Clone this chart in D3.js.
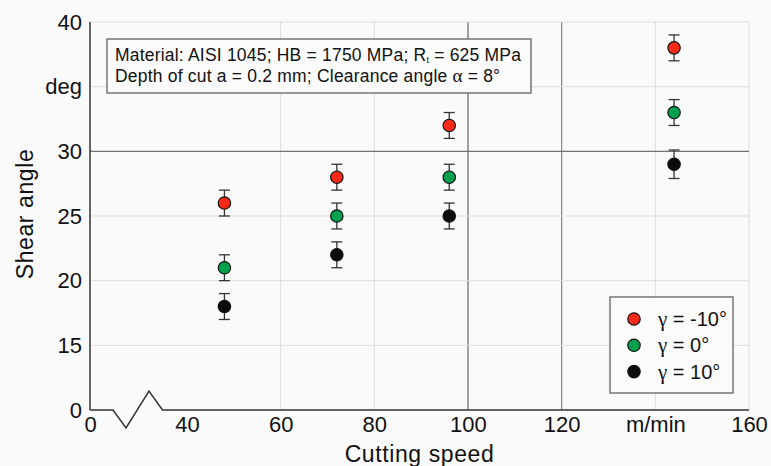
<!DOCTYPE html>
<html>
<head>
<meta charset="utf-8">
<script src="https://cdn.jsdelivr.net/npm/d3@7"></script>
<style>
  html, body { margin: 0; padding: 0; background: #fafafa; }
  svg { display: block; font-family: "Liberation Sans", Arial, sans-serif; }
</style>
</head>
<body>
<svg id="chart" width="771" height="466"></svg>
<script>
// Cutting speeds (m/min) at which the shear angle was measured
const speeds = [48, 72, 96, 144];

// Shear angle (deg) for each rake angle γ
const shearNeg10 = [26, 28, 32, 38];
const shear0 = [21, 25, 28, 33];
const shear10 = [18, 22, 25, 29];

// Scatter (± deg) shown as error bars
const errNeg10 = [1, 1, 1, 1];
const err0 = [1, 1, 1, 1];
const err10 = [1, 1, 1, 1.1];

// Legend entries: rake angle γ in degrees
const rakeAngles = ["-10", "0", "10"];
const seriesColors = ["#fb2a18", "#00a04f", "#0b0b0b"];

// Axis ticks; the x axis is broken between 0 and 40, the y axis starts at 10 shown as "0"
const xTickValues = [40, 60, 80, 100, 120, 140, 160];
const xTickLabels = ["40", "60", "80", "100", "120", "m/min", "160"];
const yTickValues = [10, 15, 20, 25, 30, 35, 40];
const yTickLabels = ["0", "15", "20", "25", "30", "deg", "40"];

const series = [
  { rake: rakeAngles[0], color: seriesColors[0], values: shearNeg10, errors: errNeg10 },
  { rake: rakeAngles[1], color: seriesColors[1], values: shear0, errors: err0 },
  { rake: rakeAngles[2], color: seriesColors[2], values: shear10, errors: err10 }
];

const svg = d3.select("#chart");
const plotLeft = 90, plotRight = 749, plotTop = 22, plotBottom = 410;
const xStart = 19.3;
const tickFont = 22, titleFont = 23;
const greekFont = "Liberation Serif, DejaVu Serif, serif";

const x = d3.scaleLinear().domain([xStart, 160]).range([plotLeft, plotRight]);
const y = d3.scaleLinear().domain([10, 40]).range([plotBottom, plotTop]);

// Grid
const grid = svg.append("g");
const strongX = { 100: "#666", 120: "#858585" };
grid.selectAll("line.vx")
  .data([60, 80, 100, 120, 140, 160])
  .join("line")
  .attr("x1", d => x(d)).attr("x2", d => x(d))
  .attr("y1", y(40)).attr("y2", y(10))
  .attr("stroke", d => strongX[d] || "#dedede")
  .attr("stroke-width", d => strongX[d] ? 1.2 : 1);
grid.selectAll("line.hy")
  .data([15, 20, 25, 30, 35, 40])
  .join("line")
  .attr("x1", x(xStart)).attr("x2", x(160))
  .attr("y1", d => y(d)).attr("y2", d => y(d))
  .attr("stroke", d => d === 30 ? "#707070" : "#dedede")
  .attr("stroke-width", d => d === 30 ? 1.2 : 1);

// Axes
const xAxis = d3.axisBottom(x)
  .tickValues([xStart].concat(xTickValues))
  .tickSize(0).tickPadding(6)
  .tickFormat(d => d === xStart ? "0" : xTickLabels[xTickValues.indexOf(d)]);
const gx = svg.append("g").attr("transform", `translate(0,${plotBottom})`).call(xAxis);
gx.select(".domain").remove();
gx.selectAll("text").attr("font-size", tickFont).attr("fill", "#111").attr("font-family", "Liberation Sans, Arial, sans-serif");

const yAxis = d3.axisLeft(y)
  .tickValues(yTickValues)
  .tickSize(0).tickPadding(8)
  .tickFormat(d => yTickLabels[yTickValues.indexOf(d)]);
const gy = svg.append("g").attr("transform", `translate(${plotLeft},0)`).call(yAxis);
gy.select(".domain").remove();
gy.selectAll("text").attr("font-size", tickFont).attr("fill", "#111").attr("font-family", "Liberation Sans, Arial, sans-serif");

// Axis lines, with a zigzag break on the speed axis
svg.append("line")
  .attr("x1", plotLeft).attr("x2", plotLeft).attr("y1", plotTop).attr("y2", plotBottom)
  .attr("stroke", "#333").attr("stroke-width", 1.5);
const breakPath = d3.path();
breakPath.moveTo(plotLeft, plotBottom);
breakPath.lineTo(plotLeft + 23, plotBottom);
breakPath.lineTo(plotLeft + 36, plotBottom + 18);
breakPath.lineTo(plotLeft + 59, plotBottom - 19);
breakPath.lineTo(plotLeft + 72.5, plotBottom);
breakPath.lineTo(plotRight, plotBottom);
svg.append("path").attr("d", breakPath.toString())
  .attr("fill", "none").attr("stroke", "#333").attr("stroke-width", 1.5)
  .attr("stroke-linejoin", "miter");

// Axis titles
svg.append("text")
  .attr("x", (plotLeft + plotRight) / 2).attr("y", 462)
  .attr("text-anchor", "middle").attr("font-size", titleFont).attr("fill", "#111")
  .attr("letter-spacing", 0.6)
  .text("Cutting speed");
svg.append("text")
  .attr("transform", "translate(33,214) rotate(-90)")
  .attr("text-anchor", "middle").attr("font-size", titleFont).attr("fill", "#111")
  .attr("letter-spacing", 0.6)
  .text("Shear angle");

// Test conditions
const note = svg.append("g");
note.append("rect")
  .attr("x", 107).attr("y", 39).attr("width", 424).attr("height", 54)
  .attr("fill", "#fbfbfb").attr("stroke", "#555").attr("stroke-width", 1.2);
const line1 = note.append("text").attr("x", 115).attr("y", 61)
  .attr("font-size", 17.5).attr("letter-spacing", 0.2).attr("fill", "#111");
line1.append("tspan").text("Material: AISI 1045; HB = 1750 MPa; R");
line1.append("tspan").attr("font-size", 9).attr("dy", 2).text("t");
line1.append("tspan").attr("dy", -2).text(" = 625 MPa");
const line2 = note.append("text").attr("x", 115).attr("y", 82)
  .attr("font-size", 17.5).attr("letter-spacing", 0.2).attr("fill", "#111");
line2.append("tspan").text("Depth of cut a = 0.2 mm; Clearance angle ");
line2.append("tspan").attr("font-family", greekFont).attr("font-size", 19).text("α");
line2.append("tspan").text(" = 8°");

// Error bars and points
const capHalf = 5.5;
series.forEach(s => {
  const g = svg.append("g");
  const rows = speeds.map((v, i) => ({ v, a: s.values[i], e: s.errors[i] }));
  g.selectAll("line.bar").data(rows).join("line")
    .attr("x1", d => x(d.v)).attr("x2", d => x(d.v))
    .attr("y1", d => y(d.a - d.e)).attr("y2", d => y(d.a + d.e))
    .attr("stroke", "#333").attr("stroke-width", 1.3);
  [-1, 1].forEach(sign => {
    g.selectAll(null).data(rows).join("line")
      .attr("x1", d => x(d.v) - capHalf).attr("x2", d => x(d.v) + capHalf)
      .attr("y1", d => y(d.a + sign * d.e)).attr("y2", d => y(d.a + sign * d.e))
      .attr("stroke", "#333").attr("stroke-width", 1.3);
  });
  g.selectAll("circle").data(rows).join("circle")
    .attr("cx", d => x(d.v)).attr("cy", d => y(d.a)).attr("r", 6.2)
    .attr("fill", s.color).attr("stroke", "#111").attr("stroke-width", 1.2);
});

// Legend
const legend = svg.append("g");
legend.append("rect")
  .attr("x", 610).attr("y", 297).attr("width", 123).attr("height", 96)
  .attr("fill", "#fbfbfb").attr("stroke", "#555").attr("stroke-width", 1.2);
const legendRows = legend.selectAll("g.row").data(series).join("g")
  .attr("transform", (d, i) => `translate(634,${319 + i * 26.3})`);
legendRows.append("circle").attr("r", 6.2)
  .attr("fill", d => d.color).attr("stroke", "#111").attr("stroke-width", 1.2);
const legendText = legendRows.append("text").attr("x", 24).attr("y", 7)
  .attr("font-size", 20).attr("fill", "#111");
legendText.append("tspan").attr("font-family", greekFont).attr("font-size", 21).text("γ");
legendText.append("tspan").text(d => ` = ${d.rake}°`);
</script>
</body>
</html>
